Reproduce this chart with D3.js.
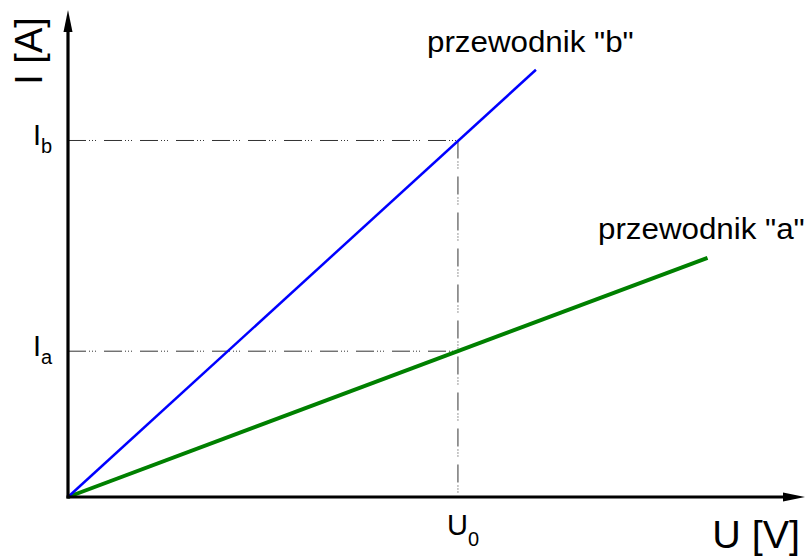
<!DOCTYPE html>
<html>
<head>
<meta charset="utf-8">
<script src="https://cdn.jsdelivr.net/npm/d3@7"></script>
<style>
  body { margin: 0; background: #fff; }
  text { font-family: "Liberation Sans", Arial, sans-serif; fill: #000; }
</style>
</head>
<body>
<div id="app"></div>
<script>
(function (d3) {

  'use strict'

  // characteristics I = G * U (U0 = 1, Ia = 1)
  const conductors = ['a', 'b']
  const labels = ['przewodnik "a"', 'przewodnik "b"']
  const colors = ['#008000', '#0000ff']
  const widths = [4, 2.5]
  const uEnd = [1.64, 1.2]
  const iEnd = [1.64, 2.93]
  const U0 = 1
  const currents = [1, 2.445]          // Ia, Ib at U0
  const currentNames = ['a', 'b']
  const uMax = 1.89
  const iMax = 3.34

  const w = 809
  const h = 559

  const x = d3.scaleLinear().domain([0, uMax]).range([68, 805])
  const y = d3.scaleLinear().domain([0, iMax]).range([497, 10])

  const svg = d3.select('#app')
  .append('svg')
  .attr('width', w)
  .attr('height', h)

  const dash = '18,3,1,2,1,2,1,8'

  // guide lines
  svg.append('g')
  .selectAll('line')
  .data(currents)
  .enter()
  .append('line')
  .attr('x1', x(0))
  .attr('x2', x(U0))
  .attr('y1', d => y(d))
  .attr('y2', d => y(d))
  .attr('stroke', '#333')
  .attr('stroke-width', 1)
  .attr('stroke-dasharray', dash)

  svg.append('line')
  .attr('x1', x(U0))
  .attr('x2', x(U0))
  .attr('y1', y(d3.max(currents)))
  .attr('y2', y(0))
  .attr('stroke', '#333')
  .attr('stroke-width', 1)
  .attr('stroke-dasharray', dash)

  // characteristic lines
  svg.append('g')
  .selectAll('line')
  .data(conductors)
  .enter()
  .append('line')
  .attr('x1', x(0))
  .attr('y1', y(0))
  .attr('x2', (d, i) => x(uEnd[i]))
  .attr('y2', (d, i) => y(iEnd[i]))
  .attr('stroke', (d, i) => colors[i])
  .attr('stroke-width', (d, i) => widths[i])

  // axes with arrows
  const axes = svg.append('g')
  axes.append('line')
  .attr('x1', x(0)).attr('y1', y(0) + 1.5)
  .attr('x2', x(0)).attr('y2', y(iMax) + 18)
  .attr('stroke', '#000').attr('stroke-width', 3.2)
  axes.append('path')
  .attr('d', `M${x(0)},${y(iMax)} L${x(0) - 4.5},${y(iMax) + 22} L${x(0) + 4.5},${y(iMax) + 22} Z`)
  .attr('fill', '#000')

  axes.append('line')
  .attr('x1', x(0) - 1.5).attr('y1', y(0))
  .attr('x2', x(uMax) - 18).attr('y2', y(0))
  .attr('stroke', '#000').attr('stroke-width', 3.2)
  axes.append('path')
  .attr('d', `M${x(uMax)},${y(0)} L${x(uMax) - 22},${y(0) - 4.5} L${x(uMax) - 22},${y(0) + 4.5} Z`)
  .attr('fill', '#000')

  // axis titles
  svg.append('text')
  .attr('transform', `translate(42,51) rotate(-90)`)
  .attr('text-anchor', 'middle')
  .attr('font-size', 38)
  .text('I [A]')

  svg.append('text')
  .attr('transform', 'translate(800,548) scale(1.04,1)')
  .attr('text-anchor', 'end')
  .attr('font-size', 38)
  .text('U [V]')

  // current markers
  const cl = svg.append('g')
  .selectAll('text')
  .data(currents)
  .enter()
  .append('text')
  .attr('x', 33)
  .attr('y', d => y(d) + 5)
  .attr('font-size', 29)
  cl.append('tspan').text('I')
  cl.append('tspan')
  .attr('dy', 8)
  .attr('font-size', 20)
  .text((d, i) => currentNames[i])

  const ul = svg.append('text')
  .attr('x', x(U0) - 11)
  .attr('y', 535)
  .attr('font-size', 29)
  ul.append('tspan').text('U')
  ul.append('tspan')
  .attr('dy', 11)
  .attr('font-size', 20)
  .text('0')

  // line labels
  svg.append('g')
  .selectAll('text')
  .data(labels)
  .enter()
  .append('text')
  .attr('transform', (d, i) => i === 0 ? 'translate(598,239) scale(1.08,1)' : 'translate(427,52) scale(1.08,1)')
  .attr('font-size', 29)
  .text(d => d)

}(d3))
</script>
</body>
</html>
